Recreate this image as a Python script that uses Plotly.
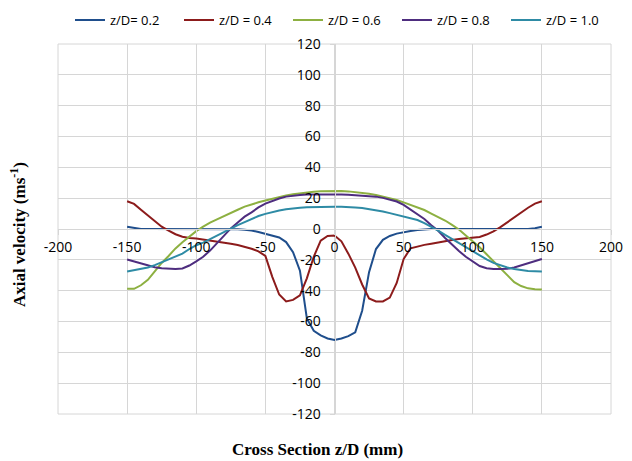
import plotly.graph_objects as go

x_mm = list(range(-150, 151, 5))

v_02 = [1.4, 0.8, 0, 0, 0, 0, 0, 0, 0, 0,
        0, 0, 0, 0, 0, 0, -0.2, -0.5, -1.0, -2.0,
        -3.0, -4.0, -5.5, -8.5, -15, -27, -58, -66, -69, -71,
        -72, -71, -69.5, -67, -53, -28, -13, -7, -4.5, -3,
        -2, -1.3, -0.7, -0.3, 0, 0, 0, 0, 0, 0,
        0, 0, 0, 0, 0, 0, 0, 0, 0, 0.5, 1.4]

v_04 = [18, 16.3, 12.5, 8.8, 4.8, 1.5, -1, -3.4, -5, -5.9,
        -6.2, -6.8, -7.6, -8.2, -8.8, -9.6, -10.4, -11.4, -12.8, -14.5,
        -17.5, -31, -42.5, -47, -46, -43, -32, -18, -7.5, -4.5,
        -4.2, -8, -16, -25, -36, -45, -47, -47, -44.5, -35,
        -19.5, -12.5, -11.2, -10.3, -9.5, -8.6, -7.8, -7.1, -6.5, -6.1,
        -5.8, -5.2, -3.6, -1.5, 1.2, 4.3, 7.8, 11, 13.8, 16.5, 18]

v_06 = [-38.7, -38.8, -36.5, -33, -27.5, -22, -17.5, -12.6, -8.6, -5,
        -1.4, 1.5, 4.2, 6.3, 8.5, 10.5, 12.5, 14.5, 16, 17.3,
        18.5, 19.7, 20.8, 21.7, 22.5, 23.2, 23.8, 24.2, 24.5, 24.7,
        24.8, 24.7, 24.4, 24, 23.5, 22.8, 22, 21, 20, 18.8,
        17.3, 15.8, 13.9, 12.3, 10, 8, 5.5, 2.7, -0.3, -4.2,
        -8, -11.8, -16.4, -21, -25.5, -30, -34.5, -37, -38.5, -39, -39.3]

v_08 = [-19.8, -21, -22.3, -23.8, -24.8, -25.5, -25.9, -25.9, -25.6, -23.7,
        -21, -18, -14, -9, -4, 0.4, 4.2, 8, 10.8, 14,
        16.5, 18.3, 19.8, 21, 21.6, 22, 22.3, 22.4, 22.5, 22.5,
        22.5, 22.4, 22.2, 22, 21.8, 21.5, 21, 20.2, 19.2, 17.8,
        15.6, 12.6, 10, 6.5, 2.5, -1.2, -5.8, -10.2, -14.3, -18,
        -21.3, -24, -25.5, -26, -26, -25.8, -25, -23.5, -22, -20.8, -19.5]

v_10 = [-27.5, -26.8, -26, -25, -23.4, -21.5, -19.8, -18, -16, -13,
        -10.5, -8.8, -6.5, -4.5, -2, 0.5, 2.5, 4.5, 6.5, 8.4,
        9.8, 11, 12, 12.8, 13.4, 13.8, 14.1, 14.3, 14.4, 14.5,
        14.5, 14.4, 14.3, 14, 13.6, 13, 12.3, 11.4, 10.3, 9.2,
        8, 7, 5.8, 3.8, 1.5, -1, -3.8, -6.5, -9.3, -11.8,
        -14.2, -17, -19.7, -22, -23.7, -25, -26, -26.8, -27.2, -27.4, -27.5]

series_names = ["z/D= 0.2", "z/D = 0.4", "z/D = 0.6", "z/D = 0.8", "z/D = 1.0"]
series_values = [v_02, v_04, v_06, v_08, v_10]
series_colors = ["#1F4E8C", "#8C1B1B", "#8DB041", "#4E2D7F", "#2E8BA5"]

x_ticks = [-200, -150, -100, -50, 0, 50, 100, 150, 200]
x_tick_labels = ["-200", "-150", "-100", "-50", "0", "50", "100", "150", "200"]
y_ticks = [-120, -100, -80, -60, -40, -20, 0, 20, 40, 60, 80, 100, 120]
y_tick_labels = ["-120", "-100", "-80", "-60", "-40", "-20", "0", "20", "40", "60", "80", "100", "120"]

grid_color = "#D6D6D6"

fig = go.Figure()
for name, vals, col in zip(series_names, series_values, series_colors):
    fig.add_trace(go.Scatter(x=x_mm, y=vals, mode="lines", name=name,
                             line=dict(color=col, width=2)))

tick_font = dict(family="Open Sans", size=14, color="#000000")

fig.update_layout(
    width=632, height=461,
    margin=dict(l=58, r=21, t=44, b=47, autoexpand=False),
    paper_bgcolor="white", plot_bgcolor="white",
    showlegend=True,
    legend=dict(orientation="h", x=0.0217, xanchor="left", y=1.105, yanchor="top",
                entrywidth=64, entrywidthmode="pixels",
                font=dict(family="Open Sans", size=13, color="#000000"),
                bgcolor="rgba(0,0,0,0)"),
    xaxis=dict(range=[-200, 200], tickvals=x_ticks, ticktext=x_tick_labels,
               showgrid=True, gridcolor=grid_color,
               gridwidth=1, zeroline=False, showline=True, linecolor=grid_color, linewidth=1,
               anchor="free", position=0.5, ticks="outside", ticklen=5, tickcolor=grid_color,
               tickfont=tick_font),
    yaxis=dict(range=[-120, 120], tickvals=y_ticks, ticktext=y_tick_labels,
               showgrid=True, gridcolor=grid_color,
               gridwidth=1, zeroline=False, showline=True, linecolor=grid_color, linewidth=1,
               anchor="free", position=0.5, ticks="outside", ticklen=5, tickcolor=grid_color,
               ticklabelstandoff=6, tickfont=tick_font),
    shapes=[dict(type="rect", xref="paper", yref="paper", x0=0, y0=0, x1=1, y1=1,
                 line=dict(color=grid_color, width=1), layer="below")],
    annotations=[
        dict(text="<b>Cross Section z/D (mm)</b>", xref="paper", yref="paper",
             x=0.469, y=-0.097, xanchor="center", yanchor="middle", showarrow=False,
             font=dict(family="Liberation Serif", size=17, color="#000000")),
        dict(text="<b>Axial velocity (ms<sup>-1</sup>)</b>", xref="paper", yref="paper",
             x=-0.072, y=0.484, xanchor="center", yanchor="middle", showarrow=False,
             textangle=-90,
             font=dict(family="Liberation Serif", size=17, color="#000000")),
    ],
)

fig.write_html("out.html")
